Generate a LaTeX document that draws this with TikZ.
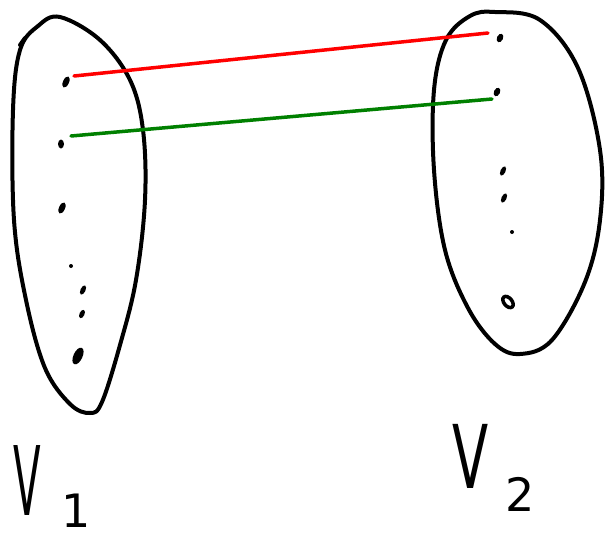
\documentclass[tikz,border=0pt]{standalone}
\usepackage{fontspec}
\usetikzlibrary{shapes.geometric}
\setmainfont{DejaVu Sans}
\begin{document}
\begin{tikzpicture}[x=1pt,y=-1pt,
  outline/.style={draw=black,line width=4pt,line cap=round,line join=round},
  pt/.style={ellipse,fill=black,inner sep=0pt,minimum width=6pt,minimum height=12pt,rotate=-25},
  tiny/.style={circle,fill=black,inner sep=0pt,minimum size=4pt},
  lbl/.style={inner sep=0pt,font=\fontsize{96}{96}\selectfont},
  sub/.style={inner sep=0pt,font=\fontsize{46}{46}\selectfont},
  edge/.style={line width=3.5pt,line cap=round}]
\useasboundingbox (0,0) rectangle (613,539);
\fill[white] (0,0) rectangle (613,539);
% left blob
\draw[outline] plot[smooth cycle,tension=0.6] coordinates {
  (60,17) (100,40) (130,80) (143,130) (145,200) (136,280) (120,345)
  (102,402) (90,413) (70,404) (45,368) (26,300) (14,220) (13,110)
  (20,50) (38,26)};
\draw[outline] (20,45) -- (25,38);
% right blob
\draw[outline] plot[smooth cycle,tension=0.6] coordinates {
  (495,12) (540,20) (578,68) (600,150) (600,220) (585,282) (552,340)
  (520,354) (495,344) (468,308) (445,250) (434,170) (434,90) (446,40)
  (470,16)};
% left points
\node[pt] (a1) at (66,82) {};
\node[pt,minimum height=9pt,rotate=25] (a2) at (61,144) {};
\node[pt] (a3) at (62,208) {};
\node[tiny] (a4) at (71,266) {};
\node[pt,minimum height=10pt,minimum width=5pt] (a5) at (83,290) {};
\node[pt,minimum height=9pt,minimum width=5pt] (a6) at (82,314) {};
\node[pt,minimum width=9pt,minimum height=18pt] (a7) at (78,356) {};
% right points
\node[pt,minimum height=9pt] (b1) at (500,38) {};
\node[pt,minimum height=9pt] (b2) at (497,92) {};
\node[pt,minimum height=10pt,minimum width=5pt] (b3) at (503,171) {};
\node[pt,minimum height=10pt,minimum width=5pt] (b4) at (504,198) {};
\node[tiny] (b5) at (512,232) {};
\node[ellipse,draw=black,line width=3.5pt,inner sep=0pt,minimum width=8pt,minimum height=13pt,rotate=40] (b6) at (508,302) {};
% edges
\coordinate (r0) at (74,76);
\coordinate (r1) at (488,33);
\coordinate (g0) at (71,136);
\coordinate (g1) at (492,99);
\draw[edge,red] (r0) -- (r1);
\draw[edge,green!50!black] (g0) -- (g1);
% labels
\node[lbl,xscale=0.42] (v1) at (27,480) {V};
\node[sub] (s1) at (76,511) {1};
\node[lbl,xscale=0.6,font=\fontsize{88}{88}\selectfont] (v2) at (471,456) {V};
\node[sub] (s2) at (520,494) {2};
\end{tikzpicture}
\end{document}
